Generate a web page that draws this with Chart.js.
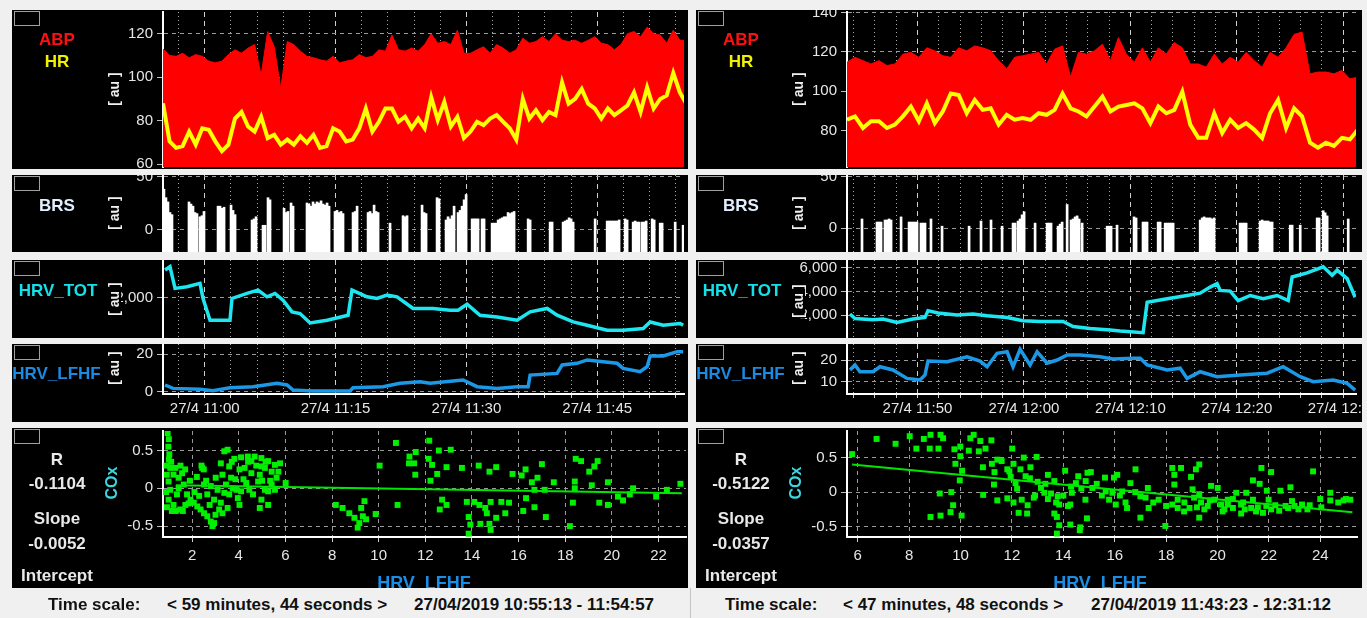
<!DOCTYPE html>
<html>
<head>
<meta charset="utf-8">
<title>ABP / HR / BRS / HRV / COx</title>
<script src="https://cdn.jsdelivr.net/npm/chart.js@4.4.1/dist/chart.umd.min.js"></script>
<style>
  html, body { margin: 0; padding: 0; background: #f0f0f0; }
  #page { position: relative; width: 1367px; height: 618px; overflow: hidden; font-family: "Liberation Sans", Arial, sans-serif; }
  .panel { position: absolute; background: #000; overflow: hidden; }
  .panel canvas { position: absolute; left: 0; top: 0; }
  .box { position: absolute; left: 2px; top: 1px; width: 24px; height: 13px; border: 1px solid #a0a0a0; }
  .lbl { position: absolute; white-space: nowrap; line-height: 1; transform: translate(-50%, -50%); }
  .rot { position: absolute; white-space: nowrap; line-height: 1; transform: translate(-50%, -50%) rotate(-90deg); }
  .cap { position: absolute; top: 596px; font-size: 17px; font-weight: bold; color: #111; white-space: nowrap; line-height: 17px; }
  .sep { position: absolute; left: 690px; top: 588px; width: 1px; height: 30px; background: #c4c4c4; }
</style>
</head>
<body>
<div id="page"></div>
<script>
// time windows, minutes of the day
const L_START = 655.22, L_END = 714.95;   // 10:55:13 - 11:54:57
const R_START = 703.38, R_END = 751.20;   // 11:43:23 - 12:31:12
const SAMPLE_STEP = 0.75;                 // minutes between ABP / HR samples

// ABP (red area) and HR (yellow) - left window
const abpLeft = [113,110,109.6,111,108.9,110.4,109.6,107.4,106.6,107.4,
  110.4,112.6,111,113.4,115,101,121,114,95,116.4,
  115,112,109.6,109,108,107.4,109.6,106.6,107.4,108,
  110.4,109,109.6,112.6,112,119.4,112.6,112,113.4,112,
  115,120,115.6,116.4,115,121.6,111,111,112.6,114,
  111,115,113.4,111,112.6,118,115.6,116.4,118.6,116.4,
  120,117,116.4,117,115.6,117,118.6,115.6,115,112.6,
  115,120,121,118.6,123,120,119.4,115.6,121.6,117,117];
const hrLeft = [88,70.5,67.5,68.3,75,69,76.5,75.8,70.5,66,
  69,81,84,77.3,75,81.8,72,73.5,69,71.3,
  69,72.8,69.8,73.5,67.5,68.3,76.5,75,70.5,71.3,
  76.5,85.6,75,79.5,85.6,85.6,79.5,81.8,76.5,81,
  76.5,90.8,80.3,88.6,77.3,81.8,72,75,79.5,78,
  81,82.6,79.5,76.5,71.3,90,81,84.8,80.3,84,
  82.6,97.6,87.8,90,94.6,87.8,85.6,81,85.6,82.6,
  84.8,87,93,84,95.3,85.6,90,91.6,102,93,87.8];
// ABP and HR - right window
const abpRight = [114.7,117.2,115.5,113.8,115.5,113,113.8,118.8,119.7,117.2,
  122,120.5,118,117.2,122,120.5,123,122,120.5,115.5,
  111.3,117.2,118,118.8,119.7,113.8,121.3,123,107.2,119.7,
  118.8,120.5,123.8,115.5,127.2,118.8,114.7,122,114.7,122,
  118.8,124.7,122,113.8,113.8,112.2,118.8,113.8,117.2,114.7,
  119.7,115.5,112.2,119.7,117.2,122,128.8,130,108.8,109.7,
  109.7,108.8,110.5,106.3,107];
const hrRight = [85.5,87.2,81.3,84.7,84.7,81.3,83,87.2,92.2,84.7,
  93.8,83.8,89.7,98.8,98,88.8,95.5,90.5,91.3,83,
  88,85.5,86.3,85.5,88.8,88,90.5,98.8,91.3,89.7,
  87.2,92.2,97.2,89.7,92.2,93,93.8,91.3,83.8,92.2,
  88.8,90.5,99.7,83,76.3,76.3,88.8,78.8,85.5,81.3,
  83.8,80.5,76.3,88.8,95.5,81.3,91.3,87.2,73.8,71.3,
  73.8,72.2,76.3,75.5,80.5];

// BRS bars: minutes from window start, value
const brsLeftT = [0.11,0.34,0.57,0.80,1.03, 2.98,3.21,3.44,3.67,3.90,4.24,4.47,4.70, 6.31,6.54,6.77,7.00,
  7.80,8.03,8.26, 10.21,10.44,10.67, 11.47,11.70, 12.04,12.27, 13.88,14.11,14.33, 14.68,14.91,
  16.51,16.74,16.97,17.20, 17.43,17.66,17.89,18.12,18.35,18.58,18.81,19.04, 19.72,19.95,20.18,20.41,20.64,
  21.79,22.02,22.25, 23.51,23.74,23.97,24.20,24.43,24.66, 26.03, 27.52,27.75,27.98, 29.70,29.93,30.16,
  31.42,31.65, 32.45,32.68,32.91,33.14,33.37, 33.83,34.06,34.29,34.52,34.75, 35.44,35.67,35.89,36.12,
  36.58,36.81, 37.73,37.96,38.19, 38.42,38.65,38.88,39.11,39.33, 39.56,39.79,40.02,40.25, 41.86,42.09,
  44.38,44.61, 45.87,46.10,46.33,46.56,46.79,47.02, 49.54, 50.92,51.15,51.38, 51.61,51.83,52.06,52.29,
  52.98,53.21, 53.90,54.13,54.36,54.58, 54.93,55.16,55.39, 56.08,56.31, 57.00,57.22, 58.72, 59.63];
const brsLeftV = [38,30,26,16,14, 26,24,22,16,15,12,13,17, 22,22,20,21,
  23,18,14, 9,10,12, 4,4, 30,28, 20,16,17, 25,22,
  25,24,22,26, 24,26,25,27,24,23,25,22, 17,18,16,17,15,
  16,17,22, 16,17,15,23,17,16, 6, 13,12,13, 23,16,15,
  30,29, 9,12,10,13,22, 16,18,22,28,33, 10,10,10,10,
  10,10, 6,6,6, 9,10,11,12,12, 16,15,16,17, 10,9,
  7,7, 7,8,9,11,10,7, 10, 8,8,8, 8,8,8,9,
  10,9, 7,8,7,7, 7,7,8, 10,9, 6,6, 7, 4];
const brsRightT = [1.41, 2.82,3.01,3.20, 3.57,3.76,3.95,4.14, 5.08, 5.83,6.01,6.20,6.39,6.58, 6.95,7.14,7.33,
  7.89, 8.93, 11.47, 12.59, 13.53, 14.57, 15.60,15.79, 16.07,16.26,16.45,16.64, 17.67, 18.80,18.99,19.17,
  19.83,20.02,20.21, 20.68, 21.05,21.24,21.43,21.62,21.81, 22.09, 24.44,24.62,24.81, 25.37, 26.97,27.16,
  27.81,28.00,28.19, 29.23,29.42, 29.89,30.08,30.27,30.45,30.64, 33.18,33.37,33.55,33.74,33.93,34.12,34.30,34.49,
  36.93,37.12,37.31,37.50, 38.81,39.00,39.19,39.38,39.57,39.76,39.94, 41.64,41.82, 42.58, 44.17,44.36,
  44.74,44.92,45.11, 47.09];
const brsRightV = [9, 6,6,6, 8,8,9,8, 11, 6,6,6,6,6, 5,5,5,
  9, 2, 2, 7, 8, 2, 5,5, 7,9,13,16, 5, 5,5,5,
  2,4,6, 23, 8,9,11,12,9, 5, 2,2,2, 3, 11,10,
  6,6,6, 6,6, 5,5,5,5,5, 8,10,11,10,10,10,9,10,
  5,5,5,5, 7,8,7,7,7,6,6, 3,3, 3, 10,10,
  17,15,12, 9];

// HRV_TOT
const totLeftT = [0.23,0.80,1.38,2.75,4.24,4.59,5.39,7.68,7.91,9.63,10.89,11.93,12.84,13.76,14.79,
  15.71,16.86,18.81,21.22,21.67,23.39,24.54,25.69,26.83,28.67,30.96,32.91,33.83,34.86,36.35,
  38.30,40.60,42.09,44.04,45.18,47.02,48.62,50.92,52.75,55.05,55.85,57.34,59.29,59.63];
const totLeftV = [3316,3472,2447,2522,2684,1971,941,941,1971,2209,2366,2047,2209,1891,1335,
  1259,813,941,1178,2366,2047,1971,2128,2047,1497,1497,1416,1416,1700,1178,
  1097,941,1335,1497,1178,860,703,466,466,546,860,703,784,703];
const totRightT = [0.28,0.75,2.44,3.38,4.70,6.20,7.33,7.61,8.55,10.34,11.84,13.16,15.04,16.54,18.14,
  20.30,21.24,22.84,24.72,25.66,27.82,28.20,30.08,31.95,33.18,34.12,34.77,35.06,36.00,36.75,
  37.88,39.10,40.41,41.45,41.82,43.23,44.74,45.58,46.05,46.99,47.74];
const totRightV = [2088,1710,1598,1658,1366,1658,1796,2372,2174,2002,2088,1942,1796,1512,1452,
  1452,1022,850,738,652,506,3086,3378,3662,3860,4376,4668,4092,4032,3232,
  3662,3378,3662,3232,5236,5580,6096,5382,5812,5098,3516];

// HRV_LFHF
const lfLeftT = [0.23,1.15,4.24,5.73,7.68,10.32,13.07,14.22,14.91,17.20,19.50,21.44,21.79,25.23,27.18,
  29.47,30.62,34.40,36.01,38.30,40.60,41.86,42.09,45.18,45.76,47.48,48.62,50.46,52.06,52.75,
  54.70,55.50,55.85,57.34,58.95,59.63];
const lfLeftV = [3.6,1.8,1.4,0.5,2.1,2.7,4.5,3.6,0.9,0.4,0.4,0.4,2.1,2.7,4.5,
  5.3,4.5,6.3,2.7,1.8,2.7,2.7,8.9,9.8,14.3,15.2,17.0,16.0,15.2,12.5,
  10.7,13.4,19.1,19.1,21.4,21.4];
const lfRightT = [0.28,0.75,1.22,2.44,3.10,4.32,5.64,6.86,7.33,7.61,9.40,11.28,12.50,13.16,14.10,
  15.04,15.60,16.26,17.20,17.86,18.80,19.74,20.68,21.90,23.78,25.00,26.88,27.54,28.20,30.08,
  31.30,31.95,33.18,34.77,36.93,39.47,40.98,42.58,43.80,45.68,46.99,47.74];
const lfRightV = [15.4,17.7,14.6,14.6,16.9,15.4,11.5,10.8,13.1,19.5,19.2,21.5,19.5,16.9,23.1,
  23.8,16.9,24.9,17.7,23.8,18.5,20,22.3,22.3,21.5,20.5,20.8,20.8,17.7,15.4,
  16.2,11.5,14.6,12.3,13.1,13.9,16.9,12.3,10.0,10.8,9.2,6.1];

// COx vs HRV_LFHF scatter
const scLeftX = [0.95,1.0,0.98,1.02,1.0,
  1.06,1.20,0.99,1.42,1.64,1.06,1.35,0.99,1.20,1.49,1.71,1.78,1.57,1.28,0.91,1.13,1.42,
  1.93,2.07,2.22,2.36,2.51,2.65,2.80,2.87,2.94,2.40,2.50,
  3.38,3.52,3.23,3.59,3.01,3.30,3.67,2.80,3.09,3.38,3.74,2.94,3.23,3.52,3.16,3.59,3.96,4.03,2.65,2.51,2.43,
  3.81,4.10,4.39,4.68,4.97,5.26,5.55,5.70,5.62,5.41,5.26,5.12,4.83,4.54,4.25,4.03,4.32,4.10,4.90,5.12,
  5.41,4.97,4.61,4.97,4.90,5.26,4.54,5.55,6.01,5.77,
  8.16,8.45,8.74,8.96,9.17,9.10,9.32,9.39,9.25,9.87,9.46,
  10.04,10.74,10.81,11.32,11.59,11.52,11.30,11.57,12.17,12.14,12.29,12.58,12.51,12.22,13.09,12.91,12.72,12.91,12.62,13.57,
  14.29,14.75,15.04,13.78,14.10,14.32,14.57,14.80,14.64,13.86,13.93,14.36,14.75,14.80,13.86,15.04,
  15.26,15.59,15.43,15.74,16.13,16.30,16.20,16.32,16.57,16.68,16.81,17.00,16.68,17.17,17.12,17.51,
  18.20,18.33,18.41,18.41,18.45,18.68,19.14,19.03,19.25,19.39,19.46,19.83,19.83,20.26,20.48,20.91,20.77,21.90,22.36,22.94,
  0.90,1.10,0.88,0.92,1.30,1.60,1.85,1.90,1.70,1.50,
  2.10,2.30,2.60,2.20,2.75,3.00,3.30,3.45,3.85,3.70,4.20,4.45,4.75,5.00,5.35,5.15,4.40,3.90];
const scLeftY = [0.73,0.65,0.55,0.45,0.38,
  0.27,0.18,0.09,0.14,0.05,-0.02,-0.08,-0.15,-0.22,-0.28,-0.22,-0.08,0.20,0.27,0.18,-0.30,0.0,
  -0.15,-0.19,-0.24,-0.28,-0.33,-0.37,-0.44,-0.50,-0.46,0.30,0.25,
  0.49,0.51,0.33,0.29,0.14,0.18,0.14,0.03,-0.02,-0.06,0.0,-0.15,-0.19,-0.26,-0.28,-0.08,-0.13,-0.22,-0.08,0.05,0.27,
  0.39,0.41,0.42,0.42,0.40,0.36,0.31,0.22,0.14,0.05,-0.04,-0.02,0.09,0.20,0.27,0.25,0.07,-0.04,0.18,0.27,
  0.22,0.29,-0.08,-0.15,-0.26,-0.22,0.36,-0.02,0.07,0.33,
  -0.22,-0.26,-0.33,-0.39,-0.46,-0.52,-0.37,-0.17,-0.26,-0.34,-0.41,
  0.30,0.60,-0.22,0.42,0.48,0.33,0.33,0.18,0.63,0.39,0.31,0.50,0.19,0.10,0.51,0.28,-0.15,-0.22,-0.28,0.27,
  0.30,0.22,0.28,-0.18,-0.18,-0.22,-0.26,-0.18,-0.33,-0.38,-0.48,-0.47,-0.47,-0.55,-0.60,-0.39,
  -0.18,-0.19,-0.33,0.19,0.17,0.25,-0.30,-0.13,0.08,-0.02,0.14,0.32,-0.25,-0.38,-0.02,0.08,
  -0.50,-0.19,0.09,0.0,0.39,0.36,0.04,0.22,0.29,0.36,-0.19,-0.22,0.08,-0.11,-0.16,0.0,-0.08,-0.11,-0.02,0.06,
  0.30,0.35,-0.05,-0.25,-0.30,-0.30,-0.20,0.10,0.25,0.30,
  -0.05,-0.10,0.10,0.15,-0.22,-0.35,-0.33,0.05,0.12,0.35,0.12,-0.02,0.30,0.10,0.10,0.35,0.35,-0.02];
const scRightX = [5.78,6.73,7.47,8.02,8.28,8.57,8.83,8.80,9.14,9.22,9.32,9.76,9.99,9.99,10.32,10.38,10.51,10.77,10.71,10.97,11.20,9.80,10.06,9.97,
  9.19,9.64,9.71,9.61,9.22,8.83,10.04,10.88,11.43,
  10.87,11.22,11.32,11.30,11.43,12.01,12.06,11.95,11.82,12.46,12.96,12.33,12.72,12.14,12.53,11.82,12.06,12.38,12.61,12.26,
  12.59,12.85,13.13,13.40,13.65,13.26,13.52,13.78,13.72,13.84,13.65,13.75,13.84,13.75,14.27,14.66,14.64,14.92,14.18,14.27,
  14.86,14.33,14.49,14.07,14.58,14.94,15.07,14.87,15.13,
  15.62,15.97,16.10,15.65,15.91,15.78,16.04,16.42,16.48,16.29,16.61,16.81,17.00,17.32,17.00,17.29,17.71,17.97,18.24,18.32,
  18.58,18.32,18.24,18.45,18.71,18.91,18.97,19.16,19.29,19.03,19.29,19.09,19.36,19.29,19.62,19.75,20.01,19.88,20.14,20.40,
  20.60,20.73,20.92,21.06,20.92,21.12,21.38,21.64,21.38,21.57,21.77,21.71,22.09,21.92,21.99,22.25,22.45,22.65,22.84,22.90,
  23.15,23.59,23.72,24.04,24.39,24.39,24.91,25.17,18.45,19.49,20.27,21.31,22.09,22.75,23.29,20.40,
  17.5,18.0,18.7,19.2,19.7,20.2,20.6,21.0,21.5,21.9,22.4,23.0,23.5,24.0,24.7,25.0,
  11.6,11.9,12.2,12.7,13.0,13.3,12.9,13.4,14.0,14.3,14.7,15.3,15.5,16.2,16.8,17.2];
const scRightY = [0.55,0.77,0.70,0.81,0.63,0.77,0.83,0.63,0.63,0.83,0.78,0.62,0.66,0.52,0.60,0.78,0.83,0.74,0.59,0.63,0.75,0.41,0.31,0.17,
  -0.02,0.0,-0.19,-0.29,-0.34,-0.36,-0.34,-0.04,-0.12,
  0.36,0.41,0.29,0.11,0.47,0.63,0.41,0.22,0.33,0.50,0.51,0.33,0.36,0.13,0.23,-0.09,-0.15,-0.11,-0.19,-0.30,
  -0.31,-0.08,0.06,0.25,0.16,-0.01,-0.02,-0.06,-0.15,-0.18,-0.31,-0.36,-0.48,-0.60,-0.47,-0.51,-0.55,-0.38,-0.20,-0.18,
  -0.11,-0.01,0.13,0.31,0.23,0.28,0.29,0.16,0.06,
  0.21,0.21,0.25,0.01,-0.01,-0.11,-0.18,-0.15,-0.23,0.01,0.13,0.33,-0.06,-0.23,-0.37,0.06,-0.11,-0.49,0.35,0.25,
  0.35,0.11,-0.18,-0.11,-0.15,-0.23,0.22,0.33,0.40,0.04,-0.03,-0.08,-0.15,-0.37,-0.20,0.09,0.06,-0.11,-0.18,-0.11,
  -0.23,-0.01,-0.18,-0.25,-0.31,-0.01,0.17,0.12,-0.11,-0.22,-0.30,0.35,0.29,0.02,-0.11,-0.19,0.02,-0.20,0.07,-0.13,
  -0.25,-0.19,0.30,-0.22,-0.01,-0.12,-0.12,-0.11,-0.23,-0.25,-0.25,-0.23,-0.25,-0.23,-0.18,-0.18,
  -0.15,-0.20,-0.28,-0.22,-0.12,-0.28,-0.10,-0.15,-0.28,-0.20,-0.27,-0.20,-0.25,-0.10,-0.15,-0.10,
  0.45,0.30,0.05,0.20,0.15,0.12,-0.05,-0.10,-0.05,0.08,0.05,0.12,-0.05,-0.05,0.00,-0.08];
// regression lines (end points)
const regLeftX = [1.3, 23.0], regLeftY = [0.04, -0.065];
const regRightX = [5.78, 25.25], regRightY = [0.40, -0.29];

// ---------------------------------------------------------------
Chart.defaults.font.family = '"Liberation Sans", Arial, sans-serif';
const page = document.getElementById('page');
const TXT = '#e6e6e6';
const TICKFONT = {size: 15};

function sampled(start, vals) { return vals.map((v, i) => ({x: start + i * SAMPLE_STEP, y: v})); }
function timed(start, t, v) { return t.map((m, i) => ({x: start + m, y: v[i]})); }
function pairs(xs, ys) { return xs.map((x, i) => ({x: x, y: ys[i]})); }
function steps(a, b, s) { const r = []; for (let v = a; v <= b + 1e-9; v += s) r.push(+v.toFixed(3)); return r; }
function hhmm(v) { const h = Math.floor(v / 60), m = Math.round(v % 60); return h + ':' + (m < 10 ? '0' : '') + m; }

function panel(x, y, w, h) {
  const d = document.createElement('div');
  d.className = 'panel';
  d.style.cssText = `left:${x}px;top:${y}px;width:${w}px;height:${h}px`;
  const c = document.createElement('canvas');
  c.width = w; c.height = h;
  d.appendChild(c);
  const b = document.createElement('div');
  b.className = 'box';
  d.appendChild(b);
  page.appendChild(d);
  return {div: d, canvas: c, w: w, h: h};
}
function text(p, str, x, y, css, cls) {
  const e = document.createElement('div');
  e.className = cls || 'lbl';
  e.textContent = str;
  e.style.cssText = `left:${x}px;top:${y}px;` + css;
  p.div.appendChild(e);
  return e;
}
function au(p, y) { text(p, '[ au ]', 101.5, y, 'font-size:14px;font-weight:bold;color:#f0f0f0;background:#000;padding:0 1px;', 'rot'); }

function yScale(min, max, vals, fmt, tickLen, tickPad) {
  return {
    type: 'linear', min: min, max: max,
    afterBuildTicks: s => { s.ticks = vals.map(v => ({value: v})); },
    afterFit: s => { s.width = 60; s.paddingTop = 0; s.paddingBottom = 0; },
    ticks: {color: TXT, font: TICKFONT, padding: tickPad || 4, autoSkip: false, callback: fmt || (v => String(v))},
    grid: {color: '#9a9a9a', lineWidth: 1, tickLength: tickLen || 6, tickColor: '#bdbdbd'},
    border: {display: true, color: '#ffffff', width: 2, dash: c => c.tick ? [4, 4] : []}
  };
}
function xTime(start, end, vals, major, labels) {
  return {
    type: 'linear', min: start, max: end, offset: false,
    afterBuildTicks: s => { s.ticks = vals.map(v => ({value: v})); },
    afterFit: s => { s.height = labels ? 28 : 0; s.paddingLeft = 0; s.paddingRight = 0; },
    ticks: {display: labels, color: TXT, font: TICKFONT, padding: 2, autoSkip: false, maxRotation: 0, minRotation: 0,
      callback: v => (v % major === 0 ? '27/4 ' + hhmm(v) : '')},
    grid: {offset: false, drawTicks: labels, tickLength: 4, tickColor: '#d0d0d0', lineWidth: 1,
      color: c => (c.tick && c.tick.value % major === 0 ? '#cfcfcf' : '#a8a8a8')},
    border: {display: labels, color: '#ffffff', width: 2,
      dash: c => (c.tick ? (c.tick.value % major === 0 ? [5, 4] : [1, 3]) : [])}
  };
}
function xValue(min, max, vals) {
  return {
    type: 'linear', min: min, max: max,
    afterBuildTicks: s => { s.ticks = vals.map(v => ({value: v})); },
    afterFit: s => { s.height = 30; s.paddingLeft = 0; s.paddingRight = 0; },
    ticks: {color: TXT, font: TICKFONT, padding: 5, autoSkip: false, maxRotation: 0, minRotation: 0},
    grid: {color: '#9a9a9a', lineWidth: 1, tickLength: 5, tickColor: '#d0d0d0'},
    border: {display: true, color: '#ffffff', width: 2, dash: c => c.tick ? [4, 4] : []}
  };
}
function options(p, plot, xH, scales) {
  return {
    responsive: false, animation: false, events: [], devicePixelRatio: 1,
    layout: {autoPadding: false,
      padding: {left: plot[0] - 60, top: plot[1], right: p.w - plot[2], bottom: Math.max(0, p.h - plot[3] - xH)}},
    plugins: {legend: {display: false}, tooltip: {enabled: false}},
    scales: scales
  };
}

const L_GRID = steps(657, 714, 3);
const R_GRID = steps(704, 750, 2);

function buildColumn(which) {
  const L = which === 'L';
  const X0 = L ? 12 : 696, W = L ? 676 : 666;
  const START = L ? L_START : R_START, END = L ? L_END : R_END;
  const GRID = L ? L_GRID : R_GRID, MAJOR = L ? 15 : 10;
  const right = L ? 672 : 660;
  const nameCss = 'font-size:17px;font-weight:bold;';

  // ABP / HR
  const p1 = panel(X0, 10, W, 159);
  new Chart(p1.canvas, {
    type: 'line',
    data: {datasets: [
      {data: sampled(START, L ? hrLeft : hrRight), borderColor: '#ffff00', borderWidth: 4, pointRadius: 0, fill: false},
      {data: sampled(START, L ? abpLeft : abpRight), borderColor: '#ff0000', backgroundColor: '#ff0000', borderWidth: 1, pointRadius: 0, fill: 'start'}
    ]},
    options: options(p1, [151, 2, right, 157], 0, {
      x: xTime(START, END, GRID, MAJOR, false),
      y: L ? yScale(58.7, 130, [60, 80, 100, 120]) : yScale(61.5, 140.2, [80, 100, 120, 140])
    })
  });
  text(p1, 'ABP', 45, 29, nameCss + 'color:#ff1010;');
  text(p1, 'HR', 45, 51, nameCss + 'color:#f0f000;');
  au(p1, 79);

  // BRS
  const p2 = panel(X0, 175, W, 77);
  new Chart(p2.canvas, {
    type: 'bar',
    data: {datasets: [
      {data: L ? timed(START, brsLeftT, brsLeftV) : timed(START, brsRightT, brsRightV),
       backgroundColor: '#ffffff', barThickness: 2, base: -30}
    ]},
    options: options(p2, [151, 0, right, 77], 0, {
      x: xTime(START, END, GRID, MAJOR, false),
      y: L ? yScale(-21.2, 51.4, [0, 50]) : yScale(-23, 51.6, [0, 50])
    })
  });
  text(p2, 'BRS', 45, 30, nameCss + 'color:#e2eeff;');
  au(p2, 38);

  // HRV_TOT
  const p3 = panel(X0, 260, W, 78);
  new Chart(p3.canvas, {
    type: 'line',
    data: {datasets: [
      {data: L ? timed(START, totLeftT, totLeftV) : timed(START, totRightT, totRightV),
       borderColor: '#1ee6f0', borderWidth: 3.5, pointRadius: 0, fill: false}
    ]},
    options: options(p3, [151, 0, right, 78], 0, {
      x: xTime(START, END, GRID, MAJOR, false),
      y: L ? yScale(100, 3790, [2000], v => v.toLocaleString('en-US'))
           : yScale(50, 6675, [2000, 4000, 6000], v => v.toLocaleString('en-US'))
    })
  });
  text(p3, 'HRV_TOT', 46, 30, nameCss + 'color:#14e0ea;');
  au(p3, L ? 38.5 : 41);

  // HRV_LFHF with the time axis
  const p4 = panel(X0, 344, W, 78);
  new Chart(p4.canvas, {
    type: 'line',
    data: {datasets: [
      {data: L ? timed(START, lfLeftT, lfLeftV) : timed(START, lfRightT, lfRightV),
       borderColor: '#1b98e6', borderWidth: 3.5, pointRadius: 0, fill: false}
    ]},
    options: options(p4, [151, 0, right, 50], 28, {
      x: xTime(START, END, GRID, MAJOR, true),
      y: L ? yScale(-1.2, 25.5, [0, 20]) : yScale(4.3, 27.4, [10, 20])
    })
  });
  text(p4, 'HRV_LFHF', 44.5, 29, nameCss + 'color:#1a8ae2;');
  au(p4, 24);

  // COx vs HRV_LFHF scatter
  const p5 = panel(X0, 428, W, 160);
  new Chart(p5.canvas, {
    type: 'scatter',
    data: {datasets: [
      {type: 'line', data: L ? pairs(regLeftX, regLeftY) : pairs(regRightX, regRightY),
       borderColor: '#00e600', borderWidth: 2, pointRadius: 0, fill: false},
      {data: L ? pairs(scLeftX, scLeftY) : pairs(scRightX, scRightY),
       pointStyle: 'rect', pointRadius: 4.2, backgroundColor: '#00f000', borderWidth: 0}
    ]},
    options: options(p5, [151, 3, L ? 674 : 661, 109], 30, {
      x: L ? xValue(0.75, 23.18, steps(2, 22, 2)) : xValue(5.58, 25.43, steps(6, 24, 2)),
      y: L ? yScale(-0.644, 0.758, [-0.5, 0, 0.5], null, 6, 4) : yScale(-0.65, 0.885, [-0.5, 0, 0.5], null, 6, 4)
    })
  });
  const sideCss = 'font-size:17px;font-weight:bold;color:#e8e8e8;';
  text(p5, 'R', 45, 31, sideCss);
  text(p5, L ? '-0.1104' : '-0.5122', 45, 55, sideCss);
  text(p5, 'Slope', 45, 90, sideCss);
  text(p5, L ? '-0.0052' : '-0.0357', 45, 115, sideCss);
  text(p5, 'Intercept', 45, 147, sideCss);
  text(p5, 'COx', 100, 55, 'font-size:16px;font-weight:bold;color:#3cd6e0;', 'rot');
  text(p5, 'HRV_LFHF', L ? 412 : 404, 155, 'font-size:18px;font-weight:bold;color:#1a8ee6;');
}

buildColumn('L');
buildColumn('R');

// footer captions
function caption(x, str) {
  const e = document.createElement('div');
  e.className = 'cap';
  e.style.left = x + 'px';
  e.textContent = str;
  page.appendChild(e);
}
caption(48, 'Time scale:');
caption(167, '< 59 minutes, 44 seconds >');
caption(414, '27/04/2019 10:55:13 - 11:54:57');
caption(725, 'Time scale:');
caption(843, '< 47 minutes, 48 seconds >');
caption(1091, '27/04/2019 11:43:23 - 12:31:12');
const sep = document.createElement('div');
sep.className = 'sep';
page.appendChild(sep);
</script>
</body>
</html>
